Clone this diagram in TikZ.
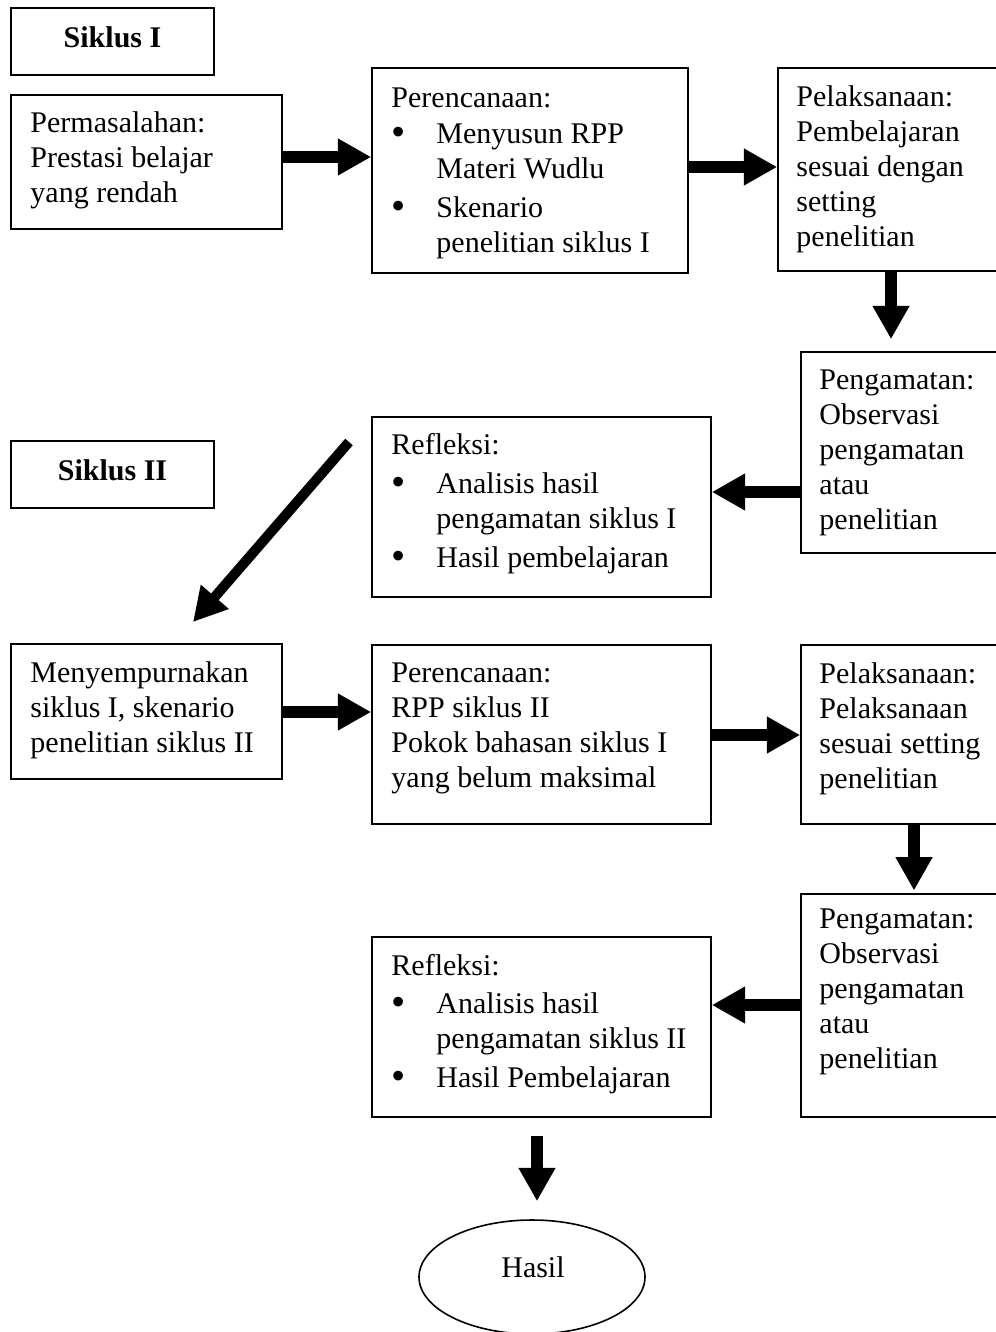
\documentclass[tikz,border=0pt]{standalone}
\usepackage{fontspec}
\setmainfont{Liberation Serif}
\usetikzlibrary{arrows.meta,fit,shapes.geometric}
\newcommand{\butir}{\makebox[33.75pt][l]{\raisebox{-1.5pt}{\scalebox{1.35}{\textbullet}}}}
\newcommand{\geser}{\hspace*{33.75pt}}

\begin{document}
\begin{tikzpicture}[x=0.75pt,y=-0.75pt]

      \tikzset{kotak/.style={draw, rectangle, line width=1.2pt, inner sep=0pt},
               teks/.style={anchor=north west, align=left, inner sep=0pt, font=\fontsize{22.5}{26.25}\selectfont},
               judul/.style={inner sep=0pt, font=\fontsize{22.5}{26.25}\selectfont\bfseries},
               panah/.style={-{Triangle[length=25pt,width=26pt]}, line width=8.5pt}}
      \useasboundingbox (0,0) rectangle (996,1332);
      \clip (0,0) rectangle (996,1332);
%% Siklus I
      	\node[kotak, fit={(11,8) (214,75)}] (siklus1) {};
      	\node[judul] (siklus1-t) at ([yshift=3pt]siklus1.center) {Siklus I};
      	\node[kotak, fit={(11,95) (282,229)}] (masalah) {};
      	\node[teks] (masalah-t) at ([shift={(20,17)}]masalah.north west) {Permasalahan:\\Prestasi belajar\\yang rendah};
      	\node[kotak, fit={(372,68) (688,273)}] (rencana1) {};
      	\node[teks] (rencana1-t) at ([shift={(20,20)}]rencana1.north west) {Perencanaan:\\[1pt]\butir Menyusun RPP\\\geser Materi Wudlu\\[3pt]\butir Skenario\\\geser penelitian siklus I};
      	\node[kotak, fit={(778,68) (1010,271)}] (laksana1) {};
      	\node[teks] (laksana1-t) at ([shift={(19,18)}]laksana1.north west) {Pelaksanaan:\\Pembelajaran\\sesuai dengan\\setting\\penelitian};
      	\node[kotak, fit={(801,352) (1010,553)}] (amat1) {};
      	\node[teks] (amat1-t) at ([shift={(19,18)}]amat1.north west) {Pengamatan:\\Observasi\\pengamatan\\atau\\penelitian};
      	\node[kotak, fit={(372,417) (711,597)}] (refleksi1) {};
      	\node[teks] (refleksi1-t) at ([shift={(20,17)}]refleksi1.north west) {Refleksi:\\[3pt]\butir Analisis hasil\\\geser pengamatan siklus I\\[3pt]\butir Hasil pembelajaran};
%% Siklus II
      	\node[kotak, fit={(11,441) (214,508)}] (siklus2) {};
      	\node[judul] (siklus2-t) at ([yshift=3pt]siklus2.center) {Siklus II};
      	\node[kotak, fit={(11,644) (282,779)}] (sempurna) {};
      	\node[teks] (sempurna-t) at ([shift={(20,18)}]sempurna.north west) {Menyempurnakan\\siklus I, skenario\\penelitian siklus II};
      	\node[kotak, fit={(372,645) (711,824)}] (rencana2) {};
      	\node[teks] (rencana2-t) at ([shift={(20,18)}]rencana2.north west) {Perencanaan:\\RPP siklus II\\Pokok bahasan siklus I\\yang belum maksimal};
      	\node[kotak, fit={(801,645) (1010,824)}] (laksana2) {};
      	\node[teks] (laksana2-t) at ([shift={(19,18)}]laksana2.north west) {Pelaksanaan:\\Pelaksanaan\\sesuai setting\\penelitian};
      	\node[kotak, fit={(801,894) (1010,1117)}] (amat2) {};
      	\node[teks] (amat2-t) at ([shift={(19,15)}]amat2.north west) {Pengamatan:\\Observasi\\pengamatan\\atau\\penelitian};
      	\node[kotak, fit={(372,937) (711,1117)}] (refleksi2) {};
      	\node[teks] (refleksi2-t) at ([shift={(20,18)}]refleksi2.north west) {Refleksi:\\[2pt]\butir Analisis hasil\\\geser pengamatan siklus II\\[3pt]\butir Hasil Pembelajaran};
      	\node[draw, ellipse, line width=1.2pt, inner sep=0pt, minimum width=169.5pt, minimum height=85.5pt] (hasil) at (532,1277) {};
      	\node[inner sep=0pt, font=\fontsize{22.5}{26.25}\selectfont] (hasil-t) at (533,1267) {Hasil};
      	\coordinate (miring1) at (349,442);
      	\coordinate (miring2) at (193,622);
%Arrows
		\path [panah] (masalah.east |- 0,157) edge (rencana1.west |- 0,157);
		\path [panah] (rencana1.east |- 0,167) edge (laksana1.west |- 0,167);
		\path [panah, shorten >=9pt] (laksana1.south -| 891,0) edge (amat1.north -| 891,0);
		\path [panah] (amat1.west |- 0,492) edge (refleksi1.east |- 0,492);
		\path [panah, line width=7.5pt] (miring1) edge (miring2);
		\path [panah] (sempurna.east |- 0,712) edge (rencana2.west |- 0,712);
		\path [panah] (rencana2.east |- 0,735) edge (laksana2.west |- 0,735);
		\path [panah, shorten >=2pt] (laksana2.south -| 914,0) edge (amat2.north -| 914,0);
		\path [panah] (amat2.west |- 0,1005) edge (refleksi2.east |- 0,1005);
		\path [panah, shorten <=14pt, shorten >=13.5pt] (refleksi2.south -| 537,0) edge (hasil.north -| 537,0);

	\end{tikzpicture}
\end{document}
